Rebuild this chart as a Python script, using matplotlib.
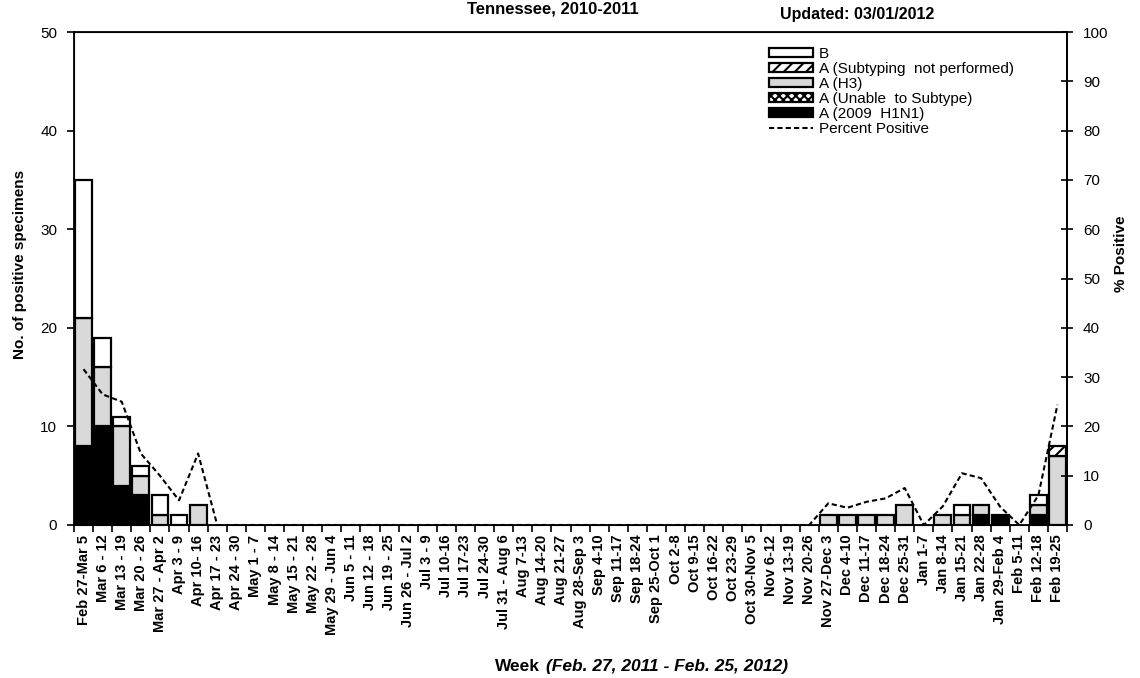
import numpy as np
import matplotlib.pyplot as plt
from matplotlib.patches import Patch
from matplotlib.lines import Line2D

plt.rcParams['font.family'] = ['Liberation Sans', 'DejaVu Sans']
plt.rcParams['hatch.linewidth'] = 1.5

weeks = ['Feb 27-Mar 5', 'Mar 6 - 12', 'Mar 13 - 19', 'Mar 20 - 26', 'Mar 27 - Apr 2',
         'Apr 3 - 9', 'Apr 10- 16', 'Apr 17 - 23', 'Apr 24 - 30', 'May 1 - 7',
         'May 8 - 14', 'May 15 - 21', 'May 22 - 28', 'May 29 - Jun 4', 'Jun 5 - 11',
         'Jun 12 - 18', 'Jun 19 - 25', 'Jun 26 - Jul 2', 'Jul 3 - 9', 'Jul 10-16',
         'Jul 17-23', 'Jul 24-30', 'Jul 31 - Aug 6', 'Aug 7-13', 'Aug 14-20',
         'Aug 21-27', 'Aug 28-Sep 3', 'Sep 4-10', 'Sep 11-17', 'Sep 18-24',
         'Sep 25-Oct 1', 'Oct 2-8', 'Oct 9-15', 'Oct 16-22', 'Oct 23-29',
         'Oct 30-Nov 5', 'Nov 6-12', 'Nov 13-19', 'Nov 20-26', 'Nov 27-Dec 3',
         'Dec 4-10', 'Dec 11-17', 'Dec 18-24', 'Dec 25-31', 'Jan 1-7',
         'Jan 8-14', 'Jan 15-21', 'Jan 22-28', 'Jan 29-Feb 4', 'Feb 5-11',
         'Feb 12-18', 'Feb 19-25']

# counts per week, stacked bottom -> top
h1n1 = [8, 10, 4, 3, 0, 0, 0, 0, 0, 0, 0, 0, 0,
        0, 0, 0, 0, 0, 0, 0, 0, 0, 0, 0, 0, 0,
        0, 0, 0, 0, 0, 0, 0, 0, 0, 0, 0, 0, 0,
        0, 0, 0, 0, 0, 0, 0, 0, 1, 1, 0, 1, 0]
unable = [0, 0, 0, 0, 0, 0, 0, 0, 0, 0, 0, 0, 0,
          0, 0, 0, 0, 0, 0, 0, 0, 0, 0, 0, 0, 0,
          0, 0, 0, 0, 0, 0, 0, 0, 0, 0, 0, 0, 0,
          0, 0, 0, 0, 0, 0, 0, 0, 0, 0, 0, 0, 0]
h3 = [13, 6, 6, 2, 1, 0, 2, 0, 0, 0, 0, 0, 0,
      0, 0, 0, 0, 0, 0, 0, 0, 0, 0, 0, 0, 0,
      0, 0, 0, 0, 0, 0, 0, 0, 0, 0, 0, 0, 0,
      1, 1, 1, 1, 2, 0, 1, 1, 1, 0, 0, 1, 7]
not_performed = [0, 0, 0, 0, 0, 0, 0, 0, 0, 0, 0, 0, 0,
                 0, 0, 0, 0, 0, 0, 0, 0, 0, 0, 0, 0, 0,
                 0, 0, 0, 0, 0, 0, 0, 0, 0, 0, 0, 0, 0,
                 0, 0, 0, 0, 0, 0, 0, 0, 0, 0, 0, 0, 1]
b = [14, 3, 1, 1, 2, 1, 0, 0, 0, 0, 0, 0, 0,
     0, 0, 0, 0, 0, 0, 0, 0, 0, 0, 0, 0, 0,
     0, 0, 0, 0, 0, 0, 0, 0, 0, 0, 0, 0, 0,
     0, 0, 0, 0, 0, 0, 0, 1, 0, 0, 0, 1, 0]
pct_positive = [31.6, 26.5, 25, 14.5, 10, 5, 14.5, 0, 0, 0, 0, 0, 0,
                0, 0, 0, 0, 0, 0, 0, 0, 0, 0, 0, 0, 0,
                0, 0, 0, 0, 0, 0, 0, 0, 0, 0, 0, 0, 0,
                4.4, 3.5, 4.7, 5.4, 7.5, 0, 3.8, 10.5, 9.5, 3.7, 0, 6, 24.4]

W, H = 1140, 678
fig = plt.figure(figsize=(W / 100, H / 100), dpi=100)
ax = fig.add_axes([74 / W, 1 - 525 / H, (1067 - 74) / W, (525 - 32) / H])

x = np.arange(len(weeks))
series = [(h1n1, 'black', None), (unable, 'white', 'xxxx'), (h3, '#d9d9d9', None),
          (not_performed, 'white', '///'), (b, 'white', None)]
bottom = np.zeros(len(weeks))
for vals, color, hatch in series:
    v = np.array(vals, dtype=float)
    shown = np.where(v > 0, v, np.nan)
    ax.bar(x, shown, 0.88, bottom=bottom, color=color, edgecolor='black',
           linewidth=1.6, hatch=hatch, zorder=2)
    bottom = bottom + v

ax.set_xlim(-0.5, len(weeks) - 0.5)
ax.set_ylim(0, 50)
ax.set_yticks(range(0, 51, 10))
ax.set_xticks(x)
ax.set_xticklabels(weeks, rotation=90, fontsize=10.5, fontweight='bold', va='top')
ax.set_xticks(np.arange(-0.5, len(weeks)), minor=True)
ax.tick_params(axis='x', which='major', length=0, pad=7)
ax.tick_params(axis='x', which='minor', length=5, width=1.2, direction='out')
ax.tick_params(axis='y', length=5, width=1.2, direction='out', labelsize=11, pad=7)
for s in ax.spines.values():
    s.set_linewidth(1.3)

ax2 = ax.twinx()
ax2.plot(x, pct_positive, color='black', linestyle=(0, (2.5, 1.5)), linewidth=1.5, zorder=3)
ax2.set_ylim(0, 100)
ax2.set_yticks(range(0, 101, 10))
ax2.tick_params(axis='y', length=9, width=1.2, direction='inout', labelsize=11, pad=7)
ax2.spines['right'].set_linewidth(1.3)

handles = [Patch(facecolor='white', edgecolor='black', linewidth=1.6),
           Patch(facecolor='white', edgecolor='black', linewidth=1.6, hatch='///'),
           Patch(facecolor='#d9d9d9', edgecolor='black', linewidth=1.6),
           Patch(facecolor='white', edgecolor='black', linewidth=1.6, hatch='xxxx'),
           Patch(facecolor='black', edgecolor='black', linewidth=1.6),
           Line2D([], [], color='black', linestyle=(0, (2.5, 1.5)), linewidth=1.5)]
labels = ['B', 'A (Subtyping  not performed)', 'A (H3)', 'A (Unable  to Subtype)',
          'A (2009  H1N1)', 'Percent Positive']
ax2.legend(handles, labels, loc='upper left', bbox_to_anchor=(769 / W, 1 - 47 / H),
           bbox_transform=fig.transFigure, frameon=False, fontsize=11,
           handlelength=2.9, handleheight=0.5, handletextpad=0.35,
           labelspacing=0.06, borderpad=0, borderaxespad=0)

fig.text(20 / W, 1 - 264 / H, 'No. of positive specimens', rotation=90, ha='center',
         va='center', fontsize=11, fontweight='bold')
fig.text(1121 / W, 1 - 254 / H, '% Positive', rotation=90, ha='center', va='center',
         fontsize=11, fontweight='bold')
fig.text(495 / W, 1 - 671 / H, 'Week', ha='left', va='baseline', fontsize=12.5,
         fontweight='bold')
fig.text(546 / W, 1 - 671 / H, '(Feb. 27, 2011 - Feb. 25, 2012)', ha='left', va='baseline',
         fontsize=12.5, fontweight='bold', style='italic')
fig.text(553 / W, 1 - 1 / H, 'Tennessee, 2010-2011', ha='center', va='top',
         fontsize=12, fontweight='bold')
fig.text(780 / W, 1 - 15 / H, 'Updated: 03/01/2012', ha='left', va='center',
         fontsize=11.5, fontweight='bold')

fig.savefig('out.png', dpi=100)
